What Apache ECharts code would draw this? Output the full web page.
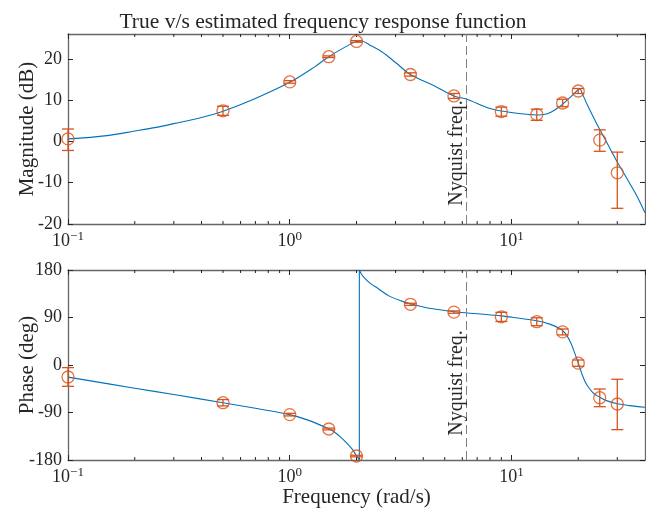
<!DOCTYPE html>
<html>
<head>
<meta charset="utf-8">
<script src="https://cdn.jsdelivr.net/npm/echarts@6/dist/echarts.min.js"></script>
<style>html,body{margin:0;padding:0;background:#fff;}#c{width:646px;height:512px;}</style>
</head>
<body>
<div id="c"></div>
<script>
// ---- Estimated points (frequency in rad/s) ----
const freqs      = [0.1, 0.5, 1, 1.5, 2, 3.5, 5.5, 9, 13, 17, 20, 25, 30];
const magEst     = [0.6, 7.4, 14.4, 20.5, 24.2, 16.2, 11.0, 7.2, 6.5, 9.3, 12.2, 0.3, -7.6];
const magHigh    = [3.0, 8.5, 14.7, 20.7, 24.4, 16.6, 11.6, 8.3, 7.8, 10.2, 12.8, 2.8, -2.6];
const magLow     = [-2.2, 6.3, 14.1, 20.3, 24.0, 15.8, 10.4, 6.1, 5.1, 8.4, 11.6, -2.4, -16.2];
const phaseEst   = [-22.7, -71.4, -94, -121.3, -172.4, 115, 100.2, 91.3, 82, 62.8, 3.5, -62, -73.9];
const phaseHigh  = [-5, -65.5, -91.5, -119.5, -171, 117, 102.5, 99.8, 89.5, 68.2, 9.5, -45.5, -27];
const phaseLow   = [-40.4, -77.5, -96.5, -123, -174, 113, 98, 82.5, 74.5, 57, -2.5, -79, -122.5];

// ---- True response curve ----
const magCurveFreq = [0.1, 0.15, 0.2, 0.25, 0.3, 0.4, 0.5, 0.7, 1.0, 1.3, 1.5, 1.8, 2.0, 2.1, 2.3, 2.6, 3.0, 3.5, 4.5, 5.5, 6.3, 8, 10, 12, 13, 14.5, 16, 17, 18.5, 19.5, 20.3, 21, 22, 24, 26, 28, 30, 34, 37, 40];
const magCurveVal  = [0.6, 1.4, 2.5, 3.4, 4.3, 5.8, 7.3, 10.4, 14.3, 18.1, 20.5, 23.0, 24.2, 24.3, 23.3, 21.7, 19.1, 16.2, 13.4, 11.0, 10.2, 7.95, 7.0, 6.5, 6.4, 6.7, 7.9, 9.0, 10.8, 12.0, 12.7, 11.2, 8.8, 4.7, 1.2, -2.0, -5.0, -10.0, -13.5, -17.3];

const phaseLowFreq  = [0.1, 0.2, 0.3, 0.5, 0.7, 1.0, 1.2, 1.5, 1.6, 1.7, 1.8, 1.9, 1.96, 2.0, 2.04, 2.06];
const phaseLowVal   = [-23, -44, -56, -71.5, -82, -94, -104, -121, -128, -137, -147, -158, -166, -172, -177, -180];
const jumpFreq = 2.06;
const phaseHighFreq = [2.06, 2.1, 2.15, 2.3, 2.5, 2.8, 3.2, 3.5, 4.0, 4.5, 5.5, 7, 9, 11, 13, 15, 16.5, 17.5, 18.5, 19.3, 20, 20.7, 21.5, 22.5, 23.5, 25, 27, 30, 34, 40];
const phaseHighVal  = [180, 173, 167, 155, 145, 131, 121, 116, 110, 106, 101, 97, 93, 88, 84, 77, 69, 60, 42, 22, 4, -15, -32, -45, -54, -61, -68, -73.5, -77, -80];

// ---- Axes ----
const xMin = 0.1, xMax = 40;
const minorTicks = [0.2,0.3,0.4,0.5,0.6,0.7,0.8,0.9,2,3,4,5,6,7,8,9,20,30];
const nyquist = 6.283;

const BLUE = '#0072BD', ORANGE = '#D95319', TXT = '#262626', AX = '#666666';
const FONT = '"Liberation Serif", "DejaVu Serif", serif';
const BIG = 21, TICK = 18;

function zip(a, b) { return a.map((v, i) => [v, b[i]]); }

function errRender(params, api) {
  const x = api.value(0), hi = api.value(1), lo = api.value(2);
  const p1 = api.coord([x, hi]), p2 = api.coord([x, lo]);
  const w = 6;
  const st = { stroke: ORANGE, lineWidth: 1.3 };
  return { type: 'group', children: [
    { type: 'line', shape: { x1: p1[0], y1: p1[1], x2: p2[0], y2: p2[1] }, style: st },
    { type: 'line', shape: { x1: p1[0] - w, y1: p1[1], x2: p1[0] + w, y2: p1[1] }, style: st },
    { type: 'line', shape: { x1: p2[0] - w, y1: p2[1], x2: p2[0] + w, y2: p2[1] }, style: st }
  ]};
}
function minorRender(params, api) {
  const v = api.value(0);
  const cs = params.coordSys;
  const px = api.coord([v, api.value(1)])[0];
  const top = cs.y, bot = cs.y + cs.height, L = 3;
  const st = { stroke: TXT, lineWidth: 1 };
  return { type: 'group', children: [
    { type: 'line', shape: { x1: px, y1: bot, x2: px, y2: bot - L }, style: st },
    { type: 'line', shape: { x1: px, y1: top, x2: px, y2: top + L }, style: st }
  ]};
}

function xAxisDef(gridIndex, pos, showLabels) {
  return {
    type: 'log', logBase: 10, gridIndex, position: pos, min: xMin, max: xMax,
    nameMoveOverlap: false,
    axisLine: { show: true, onZero: false, lineStyle: { color: AX, width: 1.3 } },
    axisTick: { show: true, inside: true, length: 5, lineStyle: { color: TXT } },
    splitLine: { show: false },
    axisLabel: {
      show: showLabels, margin: 6, showMaxLabel: false,
      formatter: v => {
        const e = Math.log10(v);
        if (Math.abs(e - Math.round(e)) > 1e-6) return '';
        const r = Math.round(e);
        return '{b|10}{s|' + (r < 0 ? '\u2212' + (-r) : r) + '}';
      },
      rich: {
        b: { fontFamily: FONT, fontSize: TICK, color: TXT, verticalAlign: 'bottom', lineHeight: 20 },
        s: { fontFamily: FONT, fontSize: 13, color: TXT, verticalAlign: 'top', lineHeight: 20, padding: [0, 0, 9, 0] }
      }
    }
  };
}
function yAxisDef(gridIndex, pos, min, max, interval, showLabels, name) {
  return {
    type: 'value', gridIndex, position: pos, min, max, interval,
    name: showLabels ? name : '', nameLocation: 'middle', nameGap: 30, nameMoveOverlap: false,
    nameTextStyle: { fontFamily: FONT, fontSize: BIG, color: TXT },
    axisLine: { show: true, onZero: false, lineStyle: { color: AX, width: 1.3 } },
    axisTick: { show: true, inside: true, length: 5, lineStyle: { color: TXT } },
    splitLine: { show: false },
    axisLabel: { show: showLabels, showMaxLabel: max % interval === 0, fontFamily: FONT, fontSize: TICK, color: TXT, margin: 6 }
  };
}

const nyqLine = (shift) => ({
  silent: true, symbol: 'none',
  lineStyle: { color: '#808080', type: [9, 4], width: 1 },
  label: { show: true, formatter: 'Nyquist freq.', position: 'insideMiddleTop', distance: 3,
           fontFamily: FONT, fontSize: BIG - 1, color: TXT, offset: [shift, 0] },
  data: [{ xAxis: nyquist }]
});

const option = {
  animation: false,
  backgroundColor: '#fff',
  title: { text: 'True v/s estimated frequency response function', left: 'center', top: 6,
           textStyle: { fontFamily: FONT, fontSize: 21.5, fontWeight: 'normal', color: TXT } },
  grid: [
    { left: 68, right: 1, top: 34, height: 190, outerBoundsMode: 'none', containLabel: false },
    { left: 68, right: 1, top: 270, height: 190, outerBoundsMode: 'none', containLabel: false }
  ],
  xAxis: [
    xAxisDef(0, 'bottom', true), xAxisDef(0, 'top', false),
    Object.assign(xAxisDef(1, 'bottom', true), { name: 'Frequency (rad/s)', nameLocation: 'middle', nameGap: 27,
      nameTextStyle: { fontFamily: FONT, fontSize: BIG, color: TXT } }),
    xAxisDef(1, 'top', false)
  ],
  yAxis: [
    yAxisDef(0, 'left', -20, 26, 10, true, 'Magnitude (dB)'), yAxisDef(0, 'right', -20, 26, 10, false, ''),
    yAxisDef(1, 'left', -180, 180, 90, true, 'Phase (deg)'), yAxisDef(1, 'right', -180, 180, 90, false, '')
  ],
  series: [
    { type: 'custom', xAxisIndex: 0, yAxisIndex: 0, renderItem: minorRender, data: minorTicks.map(v => [v, 0]), silent: true, z: 1 },
    { type: 'custom', xAxisIndex: 2, yAxisIndex: 2, renderItem: minorRender, data: minorTicks.map(v => [v, 0]), silent: true, z: 1 },
    { type: 'line', xAxisIndex: 0, yAxisIndex: 0, data: zip(magCurveFreq, magCurveVal), showSymbol: false, smooth: 0.35,
      lineStyle: { color: BLUE, width: 1.1 }, markLine: nyqLine(-27), z: 2 },
    { type: 'line', xAxisIndex: 2, yAxisIndex: 2, data: zip(phaseLowFreq, phaseLowVal), showSymbol: false, smooth: 0.35,
      lineStyle: { color: BLUE, width: 1.1 }, markLine: nyqLine(-21), z: 2 },
    { type: 'line', xAxisIndex: 2, yAxisIndex: 2, data: [[jumpFreq, -180], [jumpFreq, 180]], showSymbol: false,
      lineStyle: { color: BLUE, width: 1.1 }, z: 2 },
    { type: 'line', xAxisIndex: 2, yAxisIndex: 2, data: zip(phaseHighFreq, phaseHighVal), showSymbol: false, smooth: 0.35,
      lineStyle: { color: BLUE, width: 1.1 }, z: 2 },
    { type: 'custom', xAxisIndex: 0, yAxisIndex: 0, renderItem: errRender, encode: { x: 0, y: [1, 2] },
      data: freqs.map((f, i) => [f, magHigh[i], magLow[i]]), z: 3 },
    { type: 'custom', xAxisIndex: 2, yAxisIndex: 2, renderItem: errRender, encode: { x: 0, y: [1, 2] },
      data: freqs.map((f, i) => [f, phaseHigh[i], phaseLow[i]]), z: 3 },
    { type: 'scatter', xAxisIndex: 0, yAxisIndex: 0, data: zip(freqs, magEst), symbol: 'circle', symbolSize: 12,
      itemStyle: { color: 'rgba(0,0,0,0)', borderColor: ORANGE, borderWidth: 1.3 }, z: 4 },
    { type: 'scatter', xAxisIndex: 2, yAxisIndex: 2, data: zip(freqs, phaseEst), symbol: 'circle', symbolSize: 12,
      itemStyle: { color: 'rgba(0,0,0,0)', borderColor: ORANGE, borderWidth: 1.3 }, z: 4 }
  ]
};
const chart = echarts.init(document.getElementById('c'), null, { renderer: 'canvas' });
chart.setOption(option);
</script>
</body>
</html>
